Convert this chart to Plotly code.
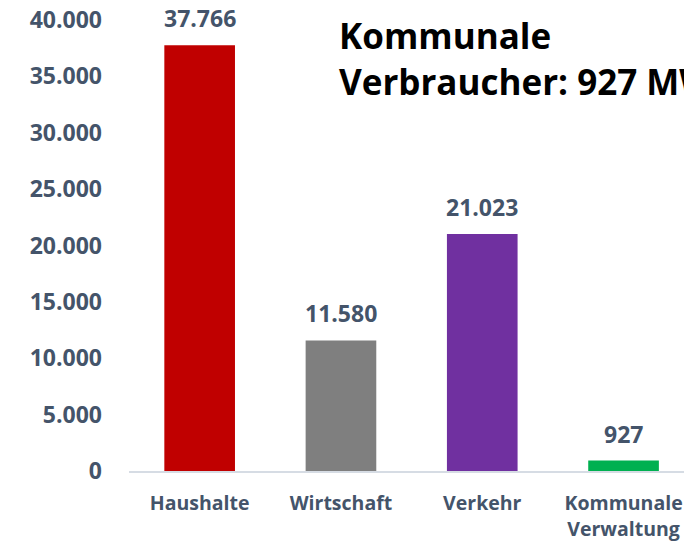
import plotly.graph_objects as go

categories = ["Haushalte", "Wirtschaft", "Verkehr", "Kommunale<br>Verwaltung"]
values = [37766, 11580, 21023, 927]
value_labels = ["37.766", "11.580", "21.023", "927"]
bar_colors = ["#C00000", "#7F7F7F", "#7030A0", "#00B050"]
tick_vals = [0, 5000, 10000, 15000, 20000, 25000, 30000, 35000, 40000]
tick_text = ["0", "5.000", "10.000", "15.000", "20.000", "25.000", "30.000", "35.000", "40.000"]
title_text = "Kommunale<br>Verbraucher: 927 MWh"

TXT = "#44546A"
FONT = "Open Sans"

# page body has an 8px margin; figure is sized to fill the rest of the window
OFF = 8
W, H = 692 - OFF, 542 - OFF
L, R, T, B = 129 - OFF, 0, 20 - OFF, 71
pw = W - L - R
ph = H - T - B

fig = go.Figure()
fig.add_trace(go.Bar(
    x=categories, y=values, marker=dict(color=bar_colors, line=dict(width=0)),
    hoverinfo="skip",
))

for c, v, t in zip(categories, values, value_labels):
    fig.add_annotation(x=c, y=v, text=t, showarrow=False, yanchor="middle", yshift=27,
                       font=dict(family=FONT, size=23, color=TXT, weight="bold"))

fig.add_annotation(xref="paper", yref="paper", x=(337 - 129) / pw, y=1 + 10 / ph,
                   xanchor="left", yanchor="top", align="left", showarrow=False,
                   text=title_text,
                   font=dict(family=FONT, size=35, color="#000000", weight="bold"))

fig.update_layout(
    width=W, height=H,
    margin=dict(l=L, r=R, t=T, b=B, pad=0, autoexpand=False),
    paper_bgcolor="white", plot_bgcolor="white",
    bargap=0.5, showlegend=False,
    xaxis=dict(
        range=[-0.5, -0.5 + pw / 141.3], automargin=False,
        showgrid=False, zeroline=False, showline=True, linecolor="#D6DCE4", linewidth=2,
        ticks="", tickfont=dict(family=FONT, size=19.5, color=TXT, weight="bold"),
        ticklabelstandoff=14, ticklabeloverflow="allow",
    ),
    yaxis=dict(
        range=[0, 40000], tickvals=tick_vals, ticktext=tick_text, automargin=False,
        showgrid=False, zeroline=False, showline=False, ticks="",
        tickfont=dict(family=FONT, size=23, color=TXT, weight="bold"),
        ticklabelstandoff=26, ticklabeloverflow="allow",
    ),
)

fig.write_html("out.html")
